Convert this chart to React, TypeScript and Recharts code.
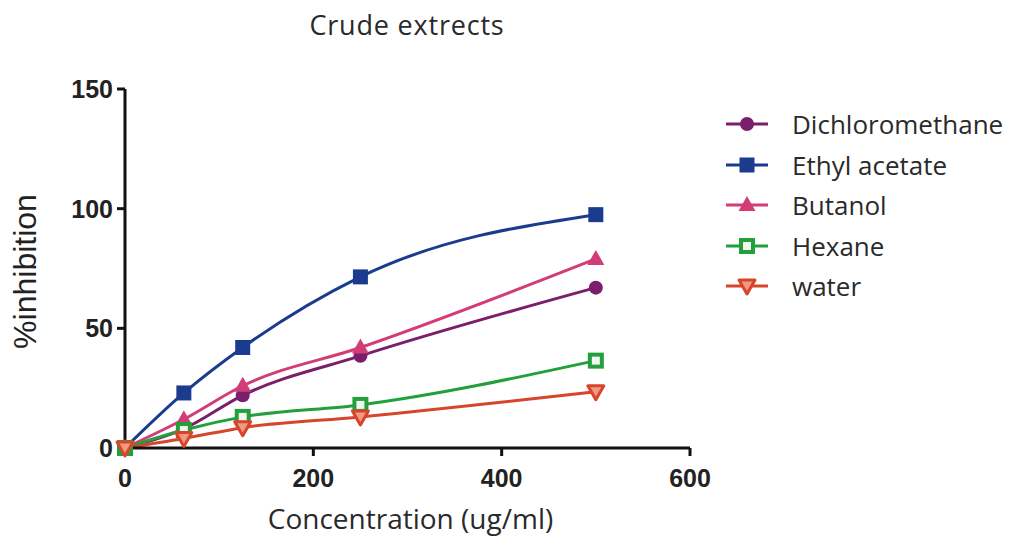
import { LineChart, Line, XAxis, YAxis } from 'recharts';

// concentrations (ug/ml)
const concentrations = [0, 62.5, 125, 250, 500];

// %inhibition per extract
const dichloromethane = [0, 8, 22, 38.5, 67];
const ethylAcetate = [0, 23, 42, 71.5, 97.5];
const butanol = [0, 12, 26, 42, 79];
const hexane = [0, 7.5, 13, 18, 36.5];
const water = [0, 4, 8.5, 13, 23.5];

const xTicks = [0, 200, 400, 600];
const yTicks = [0, 50, 100, 150];

const series = [
  { key: 'dcm', name: 'Dichloromethane', color: '#7a1f6b', shape: 'circle' },
  { key: 'ea', name: 'Ethyl acetate', color: '#1b3b8f', shape: 'square' },
  { key: 'but', name: 'Butanol', color: '#d43c78', shape: 'triangle' },
  { key: 'hex', name: 'Hexane', color: '#22a03c', shape: 'openSquare' },
  { key: 'wat', name: 'water', color: '#d6452c', shape: 'downTriangle' },
];

const data = concentrations.map((c, i) => ({
  conc: c,
  dcm: dichloromethane[i],
  ea: ethylAcetate[i],
  but: butanol[i],
  hex: hexane[i],
  wat: water[i],
}));

const textFont = '"Open Sans", sans-serif';
const tickFont = '"Liberation Sans", Arial, sans-serif';

function Marker({ cx, cy, shape, color }: { cx: number; cy: number; shape: string; color: string }) {
  if (cx == null || cy == null) return null;
  switch (shape) {
    case 'circle':
      return <circle cx={cx} cy={cy} r={7} fill={color} />;
    case 'square':
      return <rect x={cx - 7.5} y={cy - 7.5} width={15} height={15} fill={color} />;
    case 'triangle':
      return <polygon points={`${cx},${cy - 9} ${cx + 8.5},${cy + 6} ${cx - 8.5},${cy + 6}`} fill={color} />;
    case 'openSquare':
      return <rect x={cx - 6} y={cy - 6} width={12} height={12} fill="#f4f4f0" stroke={color} strokeWidth={4} />;
    case 'downTriangle':
      return (
        <polygon
          points={`${cx - 8},${cy - 6} ${cx + 8},${cy - 6} ${cx},${cy + 8}`}
          fill="#f09a80"
          stroke={color}
          strokeWidth={3}
          strokeLinejoin="round"
        />
      );
    default:
      return null;
  }
}

function LegendBox() {
  return (
    <div
      style={{
        position: 'absolute',
        left: 722,
        top: 104,
        fontFamily: textFont,
        fontSize: 26,
        color: '#2a2a2a',
        whiteSpace: 'nowrap',
      }}
    >
      {series.map(s => (
        <div key={s.key} style={{ display: 'flex', alignItems: 'center', height: 40.5 }}>
          <svg width={50} height={24} style={{ marginRight: 20 }}>
            <line x1={4} y1={12} x2={46} y2={12} stroke={s.color} strokeWidth={3} />
            <Marker cx={25} cy={12} shape={s.shape} color={s.color} />
          </svg>
          <span>{s.name}</span>
        </div>
      ))}
    </div>
  );
}

export default function App() {
  return (
    <div style={{ position: 'absolute', left: 0, top: 0, width: 1011, height: 537, background: '#fff' }}>
      <div
        style={{
          position: 'absolute',
          left: 257,
          width: 300,
          top: 6,
          textAlign: 'center',
          fontFamily: textFont,
          fontSize: 27,
          letterSpacing: 0.8,
          color: '#2a2a2a',
          whiteSpace: 'nowrap',
        }}
      >
        Crude extrects
      </div>
      <LineChart width={1011} height={537} data={data} margin={{ top: 89, right: 321, bottom: 0, left: 0 }}>
        <XAxis
          dataKey="conc"
          type="number"
          domain={[0, 600]}
          ticks={xTicks}
          height={89}
          stroke="#111"
          strokeWidth={3}
          tickSize={8}
          tickMargin={13}
          tick={{ fontFamily: tickFont, fontSize: 25, fontWeight: 700, fill: '#222' }}
          label={{
            content: (props: any) => {
              const vb = props.viewBox || { x: 125, y: 448, width: 565 };
              return (
                <text
                  x={vb.x + vb.width / 2 + 3}
                  y={vb.y + 70}
                  textAnchor="middle"
                  dominantBaseline="central"
                  fontFamily={textFont}
                  fontSize={28}
                  fill="#2a2a2a"
                >
                  Concentration (ug/ml)
                </text>
              );
            },
          }}
        />
        <YAxis
          type="number"
          domain={[0, 150]}
          ticks={yTicks}
          width={125}
          stroke="#111"
          strokeWidth={3}
          tickSize={8}
          tickMargin={4}
          tick={{ fontFamily: tickFont, fontSize: 25, fontWeight: 700, fill: '#222' }}
          label={{
            content: (props: any) => {
              const vb = props.viewBox || { x: 0, y: 89, height: 359 };
              const x = vb.x + 25;
              const y = vb.y + vb.height / 2 + 3;
              return (
                <text
                  x={x}
                  y={y}
                  transform={`rotate(-90 ${x} ${y})`}
                  textAnchor="middle"
                  dominantBaseline="central"
                  fontFamily={tickFont}
                  fontSize={32}
                  fill="#222"
                >
                  %inhibition
                </text>
              );
            },
          }}
        />
        {series.map(s => (
          <Line
            key={s.key}
            dataKey={s.key}
            name={s.name}
            type="monotone"
            stroke={s.color}
            strokeWidth={3}
            isAnimationActive={false}
            dot={(p: any) => <Marker key={`${s.key}-${p.index}`} cx={p.cx} cy={p.cy} shape={s.shape} color={s.color} />}
            activeDot={false}
          />
        ))}
      </LineChart>
      <LegendBox />
    </div>
  );
}
